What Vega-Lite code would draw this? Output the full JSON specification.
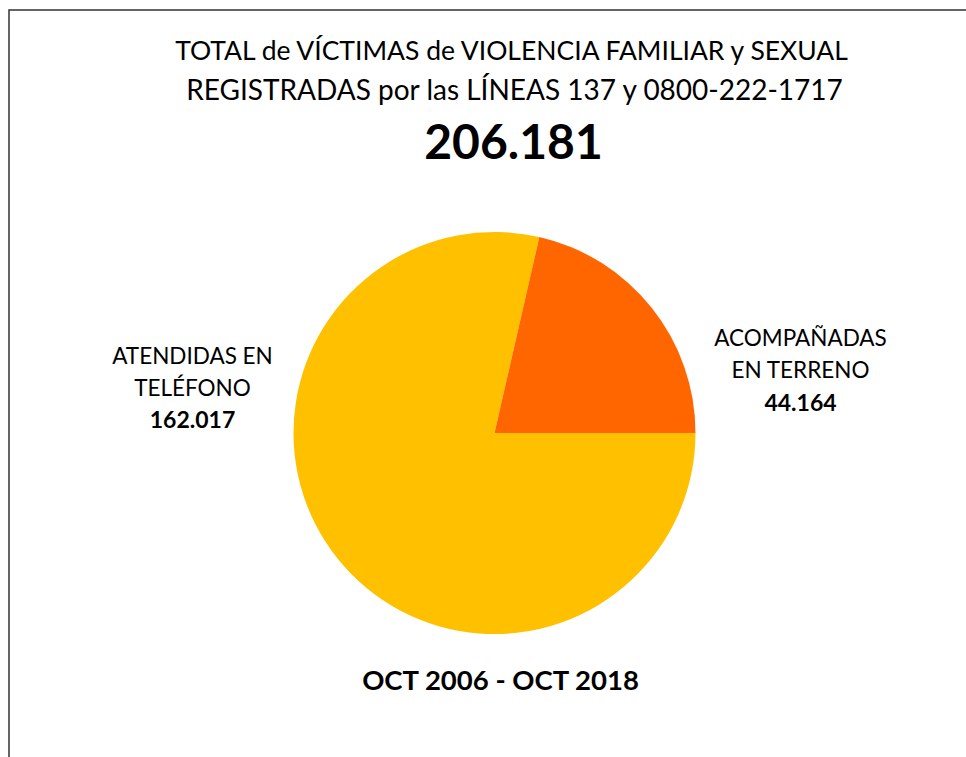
{
  "$schema": "https://vega.github.io/schema/vega-lite/v6.json",
  "width": 957,
  "height": 747,
  "padding": {"left": 9, "top": 10, "right": 0, "bottom": 0},
  "autosize": {"type": "none"},
  "background": "white",
  "view": {"stroke": "#333333", "strokeWidth": 1.5, "strokeDash": [957, 1704]},
  "config": {
    "locale": {"number": {"decimal": ",", "thousands": ".", "grouping": [3], "currency": ["$", ""]}},
    "text": {"font": "Lato", "color": "#000000", "baseline": "middle", "align": "center"}
  },
  "data": {
    "values": [
      {"tipo": "ATENDIDAS EN TELÉFONO", "etiqueta": "ATENDIDAS EN\nTELÉFONO", "victimas": 162017},
      {"tipo": "ACOMPAÑADAS EN TERRENO", "etiqueta": "ACOMPAÑADAS\nEN TERRENO", "victimas": 44164}
    ]
  },
  "layer": [
    {
      "mark": {"type": "arc", "outerRadius": 201, "xOffset": 7, "yOffset": 49.5},
      "encoding": {
        "theta": {"field": "victimas", "type": "quantitative", "stack": true, "scale": {"range": [1.5707963, 7.8539816]}},
        "color": {"field": "tipo", "type": "nominal", "scale": {"domain": ["ATENDIDAS EN TELÉFONO", "ACOMPAÑADAS EN TERRENO"], "range": ["#FFC000", "#FF6600"]}, "legend": null},
        "order": {"field": "victimas", "sort": "descending"}
      }
    },
    {
      "data": {"values": [{"linea": "TOTAL de VÍCTIMAS de VIOLENCIA FAMILIAR y SEXUAL"}]},
      "mark": {"type": "text", "fontSize": 26.5, "dx": 24, "dy": -331.5},
      "encoding": {"text": {"field": "linea"}}
    },
    {
      "data": {"values": [{"linea": "REGISTRADAS por las LÍNEAS 137 y 0800-222-1717"}]},
      "mark": {"type": "text", "fontSize": 28, "dx": 27, "dy": -291.5},
      "encoding": {"text": {"field": "linea"}}
    },
    {
      "transform": [{"aggregate": [{"op": "sum", "field": "victimas", "as": "total"}]}],
      "mark": {"type": "text", "fontSize": 48, "fontWeight": "bold", "dx": 26, "dy": -238.5},
      "encoding": {"text": {"field": "total", "type": "quantitative", "format": ",d"}}
    },
    {
      "transform": [{"filter": {"field": "tipo", "equal": "ATENDIDAS EN TELÉFONO"}}],
      "mark": {"type": "text", "fontSize": 22.5, "lineBreak": "\n", "lineHeight": 32, "dx": -295, "dy": -27},
      "encoding": {"text": {"field": "etiqueta"}}
    },
    {
      "transform": [{"filter": {"field": "tipo", "equal": "ATENDIDAS EN TELÉFONO"}}],
      "mark": {"type": "text", "fontSize": 23, "fontWeight": "bold", "dx": -295, "dy": 37.5},
      "encoding": {"text": {"field": "victimas", "type": "quantitative", "format": ",d"}}
    },
    {
      "transform": [{"filter": {"field": "tipo", "equal": "ACOMPAÑADAS EN TERRENO"}}],
      "mark": {"type": "text", "fontSize": 22.5, "lineBreak": "\n", "lineHeight": 32, "dx": 313, "dy": -45},
      "encoding": {"text": {"field": "etiqueta"}}
    },
    {
      "transform": [{"filter": {"field": "tipo", "equal": "ACOMPAÑADAS EN TERRENO"}}],
      "mark": {"type": "text", "fontSize": 23, "fontWeight": "bold", "dx": 313, "dy": 20.5},
      "encoding": {"text": {"field": "victimas", "type": "quantitative", "format": ",d"}}
    },
    {
      "data": {"values": [{"periodo": "OCT 2006 - OCT 2018"}]},
      "mark": {"type": "text", "fontSize": 27.5, "fontWeight": "bold", "dx": 13, "dy": 298.5},
      "encoding": {"text": {"field": "periodo"}}
    }
  ]
}
